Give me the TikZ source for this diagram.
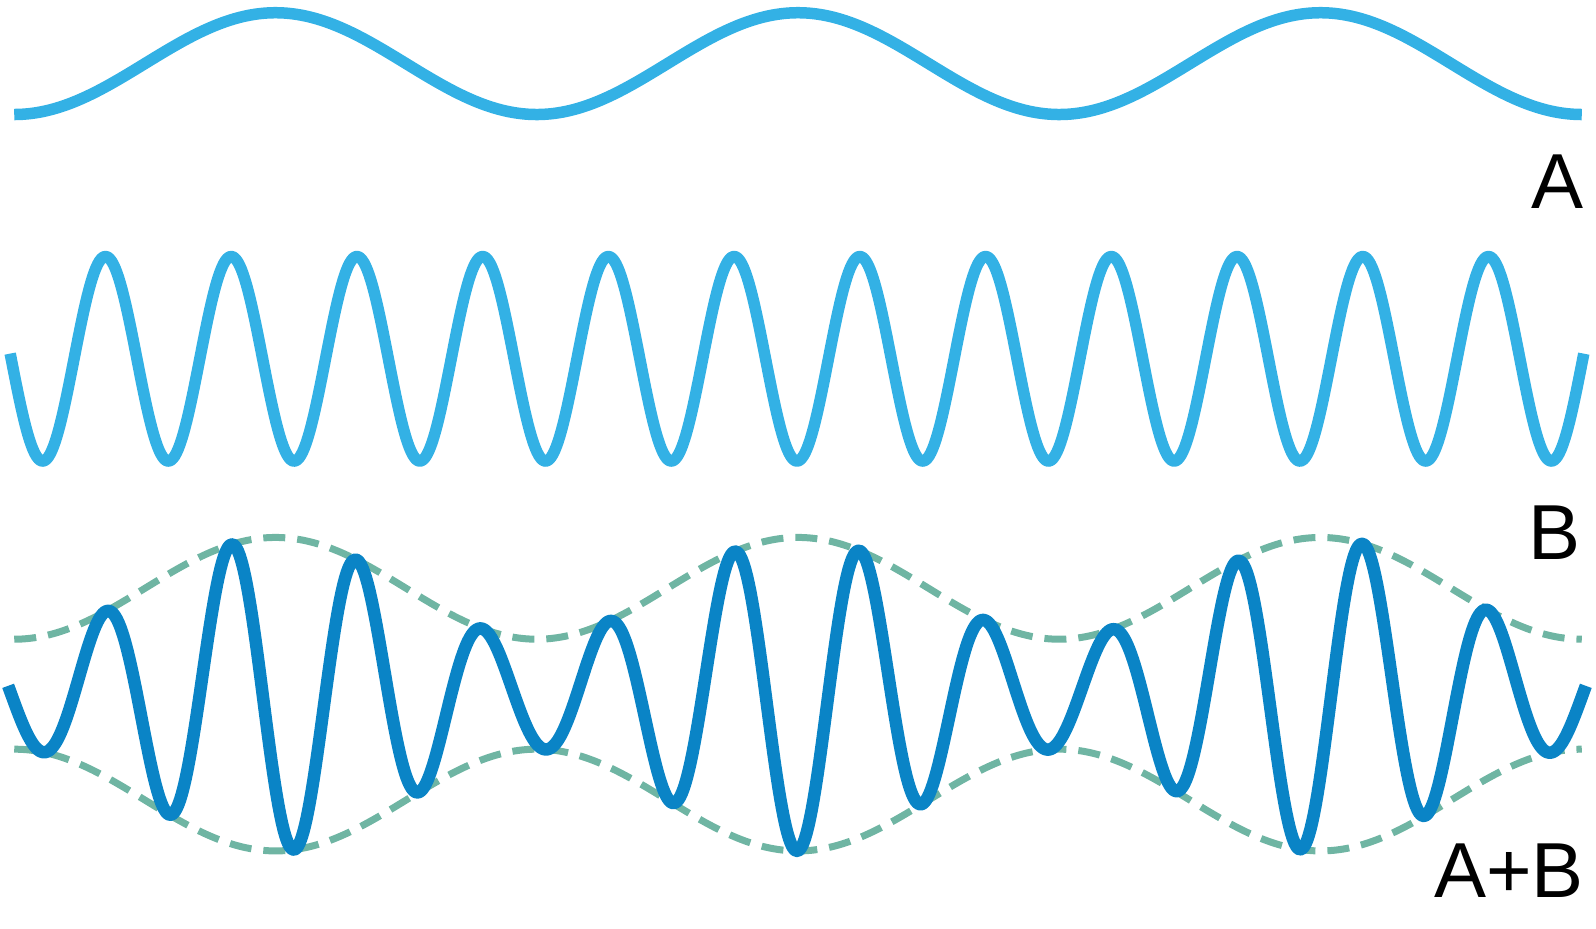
\documentclass[tikz,border=0pt]{standalone}
\usepackage{fontspec}
\setmainfont{Liberation Sans}
\definecolor{waveblue}{HTML}{33B1E5}
\definecolor{sumblue}{HTML}{0A84C6}
\definecolor{envgreen}{HTML}{6FB5A3}
\tikzset{
  wavea/.style={draw=waveblue, line width=11.5pt, line join=round},
  wavesum/.style={draw=sumblue, line width=12.5pt, line join=round},
  envelope/.style={draw=envgreen, line width=7pt, dash pattern=on 22pt off 12pt},
  lbl/.style={inner sep=0pt, anchor=base east, font=\fontsize{78}{80}\selectfont}
}
\begin{document}
\begin{tikzpicture}[x=1.0179pt,y=-1.0179pt,
  declare function={
    Ahat(\t)=-cos(0.70130*(\t-14));
    Env(\t)=104+50*Ahat(\t);
    Bw(\t)=sin(2.91451*(\t-11));
  }]
\useasboundingbox (0,0) rectangle (1568,912);
% wave A
\draw[wavea] plot[domain=14:1554,samples=300,smooth] (\x,{62.5-50*Ahat(\x)});
% wave B
\draw[wavea] plot[domain=10:1556,samples=900] (\x,{352.5+100.5*Bw(\x)});
% envelopes
\draw[envelope] plot[domain=14:1554,samples=200,smooth] (\x,{682-Env(\x)});
\draw[envelope] plot[domain=14:1554,samples=200,smooth] (\x,{682+Env(\x)});
% wave A+B
\draw[wavesum] plot[domain=8:1558,samples=900] (\x,{682+Env(\x)*Bw(\x)});
% labels
\node[lbl] (la) at (1556,205) {A};
\node[lbl] (lb) at (1553,550) {B};
\node[lbl] (lab) at (1556,882) {A+B};
\end{tikzpicture}
\end{document}
